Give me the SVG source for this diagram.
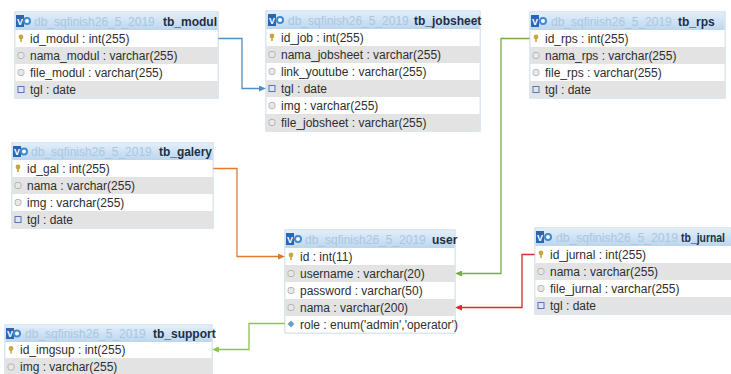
<svg xmlns="http://www.w3.org/2000/svg" width="731" height="374" viewBox="0 0 731 374">
<defs>
<linearGradient id="hg" x1="0" y1="0" x2="0" y2="1">
<stop offset="0" stop-color="#e2eefa"/>
<stop offset="1" stop-color="#bcd6ee"/>
</linearGradient>
<marker id="aBlue" markerWidth="7" markerHeight="6" refX="0" refY="3" orient="auto" markerUnits="userSpaceOnUse"><path d="M0,0 L7,3 L0,6 z" fill="#4f8fc6"/></marker>
<marker id="aOrange" markerWidth="7" markerHeight="6" refX="0" refY="3" orient="auto" markerUnits="userSpaceOnUse"><path d="M0,0 L7,3 L0,6 z" fill="#e07b2e"/></marker>
<marker id="aGreen" markerWidth="7" markerHeight="6" refX="0" refY="3" orient="auto" markerUnits="userSpaceOnUse"><path d="M0,0 L7,3 L0,6 z" fill="#78a94a"/></marker>
<marker id="aRed" markerWidth="7" markerHeight="6" refX="0" refY="3" orient="auto" markerUnits="userSpaceOnUse"><path d="M0,0 L7,3 L0,6 z" fill="#d62c2c"/></marker>
<marker id="aLime" markerWidth="7" markerHeight="6" refX="0" refY="3" orient="auto" markerUnits="userSpaceOnUse"><path d="M0,0 L7,3 L0,6 z" fill="#8dc63f"/></marker>
</defs>
<style>
.box{fill:#fff;stroke:#b9cfe2;stroke-width:1}
.hd{fill:url(#hg)}
.g{fill:#e3e3e3}
.w{fill:#ffffff}
.vi{fill:#2a66b8}
.vt{font-family:"Liberation Sans",Arial,sans-serif;font-size:9px;font-weight:bold;fill:#fff}
.ci{fill:#fff;stroke:#3b8ad3;stroke-width:2}
.db{font-family:"Liberation Sans",Arial,sans-serif;font-size:12px;fill:#a9c7e0}
.tn{font-family:"Liberation Sans",Arial,sans-serif;font-size:12px;font-weight:bold;fill:#1d2f45}
.t{font-family:"Liberation Sans",Arial,sans-serif;font-size:12px;fill:#2e2e2e}
.key{fill:#c9a640}
.ic{fill:#e8e8e8;stroke:#a8a8a8;stroke-width:0.8}
.dt{fill:#dfe6f2;stroke:#5677ad;stroke-width:1}
.en{fill:#6e9fc2}
.c{fill:none;stroke-width:1.3}
</style>

<g id="connectors">
<path class="c" stroke="#4f8fc6" d="M218,38.5 H242 V88.5 H259" marker-end="url(#aBlue)"/>
<path class="c" stroke="#e07b2e" d="M213,168.5 H237 V256.5 H278" marker-end="url(#aOrange)"/>
<path class="c" stroke="#78a94a" d="M530,38.5 H501 V273.5 H462" marker-end="url(#aGreen)"/>
<path class="c" stroke="#d62c2c" d="M535,254.5 H522 V307.5 H462" marker-end="url(#aRed)"/>
<path class="c" stroke="#8dc63f" d="M285,323.5 H249 V349.5 H219" marker-end="url(#aLime)"/>
</g>

<!-- tb_modul -->
<g id="tb_modul">
<rect class="box" x="15" y="12" width="203" height="86"/>
<rect class="hd" x="15.5" y="12.5" width="202" height="17.5"/>
<rect class="vi" x="16" y="15" width="8" height="12"/><text class="vt" x="17" y="24.5">V</text>
<circle class="ci" cx="27" cy="21" r="3"/>
<text class="db" x="34" y="25.5">db_sqfinish26_5_2019</text>
<text class="tn" x="163" y="25.5">tb_modul</text>
<rect class="w" x="15.5" y="30" width="202" height="17"/>
<rect class="g" x="15.5" y="47" width="202" height="17"/>
<rect class="w" x="15.5" y="64" width="202" height="17"/>
<rect class="g" x="15.5" y="81" width="202" height="16.5"/>
<circle class="key" cx="21" cy="37" r="2.4"/><rect class="key" x="20.2" y="38" width="1.6" height="4"/>
<text class="t" x="30" y="43">id_modul : int(255)</text>
<rect class="ic" x="18" y="52.5" width="6" height="6" rx="2"/>
<text class="t" x="30" y="60">nama_modul : varchar(255)</text>
<rect class="ic" x="18" y="69.5" width="6" height="6" rx="2"/>
<text class="t" x="30" y="77">file_modul : varchar(255)</text>
<rect class="dt" x="18" y="86.5" width="6" height="6"/>
<text class="t" x="30" y="94">tgl : date</text>
</g>

<!-- tb_jobsheet -->
<g id="tb_jobsheet">
<rect class="box" x="266" y="11" width="214" height="120"/>
<rect class="hd" x="266.5" y="11.5" width="213" height="17.5"/>
<rect class="vi" x="268" y="14" width="8" height="12"/><text class="vt" x="269" y="23.5">V</text>
<circle class="ci" cx="280" cy="20" r="3"/>
<text class="db" x="288" y="24.5">db_sqfinish26_5_2019</text>
<text class="tn" x="414" y="24.5">tb_jobsheet</text>
<rect class="w" x="266.5" y="29" width="213" height="17"/>
<rect class="g" x="266.5" y="46" width="213" height="17"/>
<rect class="w" x="266.5" y="63" width="213" height="17"/>
<rect class="g" x="266.5" y="80" width="213" height="17"/>
<rect class="w" x="266.5" y="97" width="213" height="17"/>
<rect class="g" x="266.5" y="114" width="213" height="16.5"/>
<circle class="key" cx="272" cy="36" r="2.4"/><rect class="key" x="271.2" y="37" width="1.6" height="4"/>
<text class="t" x="281" y="42">id_job : int(255)</text>
<rect class="ic" x="269" y="51.5" width="6" height="6" rx="2"/>
<text class="t" x="281" y="59">nama_jobsheet : varchar(255)</text>
<rect class="ic" x="269" y="68.5" width="6" height="6" rx="2"/>
<text class="t" x="281" y="76">link_youtube : varchar(255)</text>
<rect class="dt" x="269" y="85.5" width="6" height="6"/>
<text class="t" x="281" y="93">tgl : date</text>
<rect class="ic" x="269" y="102.5" width="6" height="6" rx="2"/>
<text class="t" x="281" y="110">img : varchar(255)</text>
<rect class="ic" x="269" y="119.5" width="6" height="6" rx="2"/>
<text class="t" x="281" y="127">file_jobsheet : varchar(255)</text>
</g>

<!-- tb_rps -->
<g id="tb_rps">
<rect class="box" x="530" y="12" width="195" height="86"/>
<rect class="hd" x="530.5" y="12.5" width="194" height="17.5"/>
<rect class="vi" x="531" y="15" width="8" height="12"/><text class="vt" x="532" y="24.5">V</text>
<circle class="ci" cx="543" cy="21" r="3"/>
<text class="db" x="551" y="25.5">db_sqfinish26_5_2019</text>
<text class="tn" x="678" y="25.5">tb_rps</text>
<rect class="w" x="530.5" y="30" width="194" height="17"/>
<rect class="g" x="530.5" y="47" width="194" height="17"/>
<rect class="w" x="530.5" y="64" width="194" height="17"/>
<rect class="g" x="530.5" y="81" width="194" height="16.5"/>
<circle class="key" cx="536" cy="37" r="2.4"/><rect class="key" x="535.2" y="38" width="1.6" height="4"/>
<text class="t" x="545" y="43">id_rps : int(255)</text>
<rect class="ic" x="533" y="52.5" width="6" height="6" rx="2"/>
<text class="t" x="545" y="60">nama_rps : varchar(255)</text>
<rect class="ic" x="533" y="69.5" width="6" height="6" rx="2"/>
<text class="t" x="545" y="77">file_rps : varchar(255)</text>
<rect class="dt" x="533" y="86.5" width="6" height="6"/>
<text class="t" x="545" y="94">tgl : date</text>
</g>

<!-- tb_galery -->
<g id="tb_galery">
<rect class="box" x="12" y="143" width="201" height="85"/>
<rect class="hd" x="12.5" y="143.5" width="200" height="16.5"/>
<rect class="vi" x="13" y="146" width="8" height="11"/><text class="vt" x="14" y="155">V</text>
<circle class="ci" cx="24" cy="151.5" r="3"/>
<text class="db" x="31" y="156">db_sqfinish26_5_2019</text>
<text class="tn" x="159" y="156" textLength="53" lengthAdjust="spacingAndGlyphs">tb_galery</text>
<rect class="w" x="12.5" y="160" width="200" height="17"/>
<rect class="g" x="12.5" y="177" width="200" height="17"/>
<rect class="w" x="12.5" y="194" width="200" height="17"/>
<rect class="g" x="12.5" y="211" width="200" height="16.5"/>
<circle class="key" cx="18" cy="167" r="2.4"/><rect class="key" x="17.2" y="168" width="1.6" height="4"/>
<text class="t" x="27" y="173">id_gal : int(255)</text>
<rect class="ic" x="15" y="182.5" width="6" height="6" rx="2"/>
<text class="t" x="27" y="190">nama : varchar(255)</text>
<rect class="ic" x="15" y="199.5" width="6" height="6" rx="2"/>
<text class="t" x="27" y="207">img : varchar(255)</text>
<rect class="dt" x="15" y="216.5" width="6" height="6"/>
<text class="t" x="27" y="224">tgl : date</text>
</g>

<!-- user -->
<g id="user">
<rect class="box" x="285" y="230" width="170" height="103"/>
<rect class="hd" x="285.5" y="230.5" width="169" height="17.5"/>
<rect class="vi" x="286" y="233" width="8" height="12"/><text class="vt" x="287" y="242.5">V</text>
<circle class="ci" cx="298" cy="239" r="3"/>
<text class="db" x="305" y="243.5">db_sqfinish26_5_2019</text>
<text class="tn" x="432" y="243.5">user</text>
<rect class="w" x="285.5" y="248" width="169" height="17"/>
<rect class="g" x="285.5" y="265" width="169" height="17"/>
<rect class="w" x="285.5" y="282" width="169" height="17"/>
<rect class="g" x="285.5" y="299" width="169" height="17"/>
<rect class="w" x="285.5" y="316" width="169" height="16.5"/>
<circle class="key" cx="291" cy="255" r="2.4"/><rect class="key" x="290.2" y="256" width="1.6" height="4"/>
<text class="t" x="300" y="261">id : int(11)</text>
<rect class="ic" x="288" y="270.5" width="6" height="6" rx="2"/>
<text class="t" x="300" y="278">username : varchar(20)</text>
<rect class="ic" x="288" y="287.5" width="6" height="6" rx="2"/>
<text class="t" x="300" y="295">password : varchar(50)</text>
<rect class="ic" x="288" y="304.5" width="6" height="6" rx="2"/>
<text class="t" x="300" y="312">nama : varchar(200)</text>
<path class="en" d="M291,320.5 L294.5,324 L291,327.5 L287.5,324 z"/>
<text class="t" x="300" y="329">role : enum('admin','operator')</text>
</g>

<!-- tb_jurnal -->
<g id="tb_jurnal">
<rect class="box" x="535" y="228" width="200" height="86"/>
<rect class="hd" x="535.5" y="228.5" width="199" height="17.5"/>
<rect class="vi" x="536" y="231" width="8" height="12"/><text class="vt" x="537" y="240.5">V</text>
<circle class="ci" cx="548" cy="237" r="3"/>
<text class="db" x="556" y="241.5" textLength="122" lengthAdjust="spacingAndGlyphs">db_sqfinish26_5_2019</text>
<text class="tn" x="681" y="241.5" textLength="44" lengthAdjust="spacingAndGlyphs">tb_jurnal</text>
<rect class="w" x="535.5" y="246" width="199" height="17"/>
<rect class="g" x="535.5" y="263" width="199" height="17"/>
<rect class="w" x="535.5" y="280" width="199" height="17"/>
<rect class="g" x="535.5" y="297" width="199" height="16.5"/>
<circle class="key" cx="541" cy="253" r="2.4"/><rect class="key" x="540.2" y="254" width="1.6" height="4"/>
<text class="t" x="550" y="259">id_jurnal : int(255)</text>
<rect class="ic" x="538" y="268.5" width="6" height="6" rx="2"/>
<text class="t" x="550" y="276">nama : varchar(255)</text>
<rect class="ic" x="538" y="285.5" width="6" height="6" rx="2"/>
<text class="t" x="550" y="293">file_jurnal : varchar(255)</text>
<rect class="dt" x="538" y="302.5" width="6" height="6"/>
<text class="t" x="550" y="310">tgl : date</text>
</g>

<!-- tb_support -->
<g id="tb_support">
<rect class="box" x="5" y="325" width="207" height="55"/>
<rect class="hd" x="5.5" y="325.5" width="206" height="16.5"/>
<rect class="vi" x="6" y="328" width="8" height="11"/><text class="vt" x="7" y="337">V</text>
<circle class="ci" cx="17" cy="333.5" r="3"/>
<text class="db" x="25" y="338">db_sqfinish26_5_2019</text>
<text class="tn" x="153" y="338">tb_support</text>
<rect class="w" x="5.5" y="342" width="206" height="16"/>
<rect class="g" x="5.5" y="358" width="206" height="17"/>
<circle class="key" cx="11" cy="348.5" r="2.4"/><rect class="key" x="10.2" y="349.5" width="1.6" height="4"/>
<text class="t" x="20" y="354">id_imgsup : int(255)</text>
<rect class="ic" x="8" y="364" width="6" height="6" rx="2"/>
<text class="t" x="20" y="371">img : varchar(255)</text>
</g>
</svg>
